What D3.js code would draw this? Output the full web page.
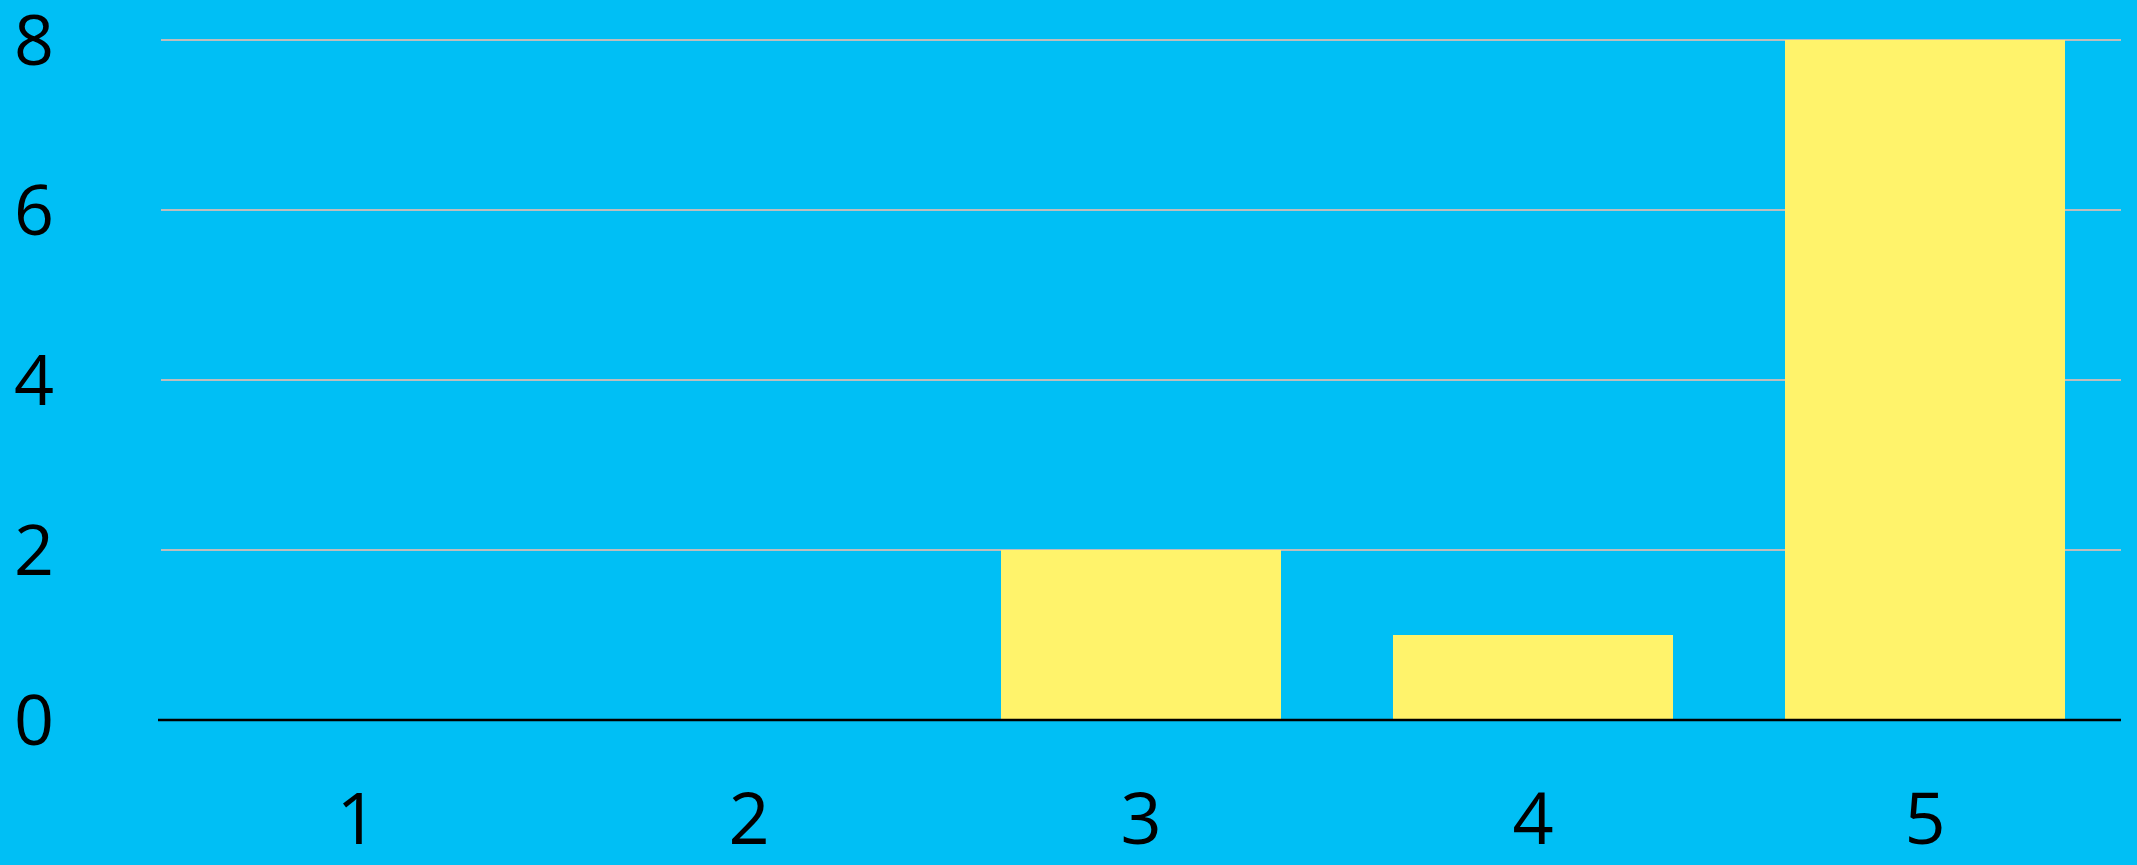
<!DOCTYPE html>
<meta charset="utf-8">
<style>
body { margin: 0; background: #00bff5; }
svg { display: block; }
.tick-label { font-family: "Open Sans", sans-serif; fill: #000; }
.y-label { font-size: 70px; }
.x-label { font-size: 72px; }
</style>
<svg class="chart"></svg>
<script src="https://d3js.org/d3.v7.min.js"></script>
<script>

var categories = ["1", "2", "3", "4", "5"];
var values = [0, 0, 2, 1, 8];
var yTicks = [0, 2, 4, 6, 8];

var width = 2137, height = 865;
var margin = {top: 40, right: 16, bottom: 145, left: 161};

var svg = d3.select(".chart")
    .attr("width", width)
    .attr("height", height);

svg.append("rect")
    .attr("width", width)
    .attr("height", height)
    .attr("fill", "#00bff5");

var x = d3.scaleBand()
    .domain(categories)
    .range([margin.left, width - margin.right])
    .paddingInner(2 / 7)
    .paddingOuter(1 / 7);

var y = d3.scaleLinear()
    .domain([0, 8])
    .range([height - margin.bottom, margin.top]);

// grid lines
svg.append("g")
  .selectAll("line")
  .data(yTicks.filter(function(d) { return d > 0; }))
  .enter().append("line")
    .attr("x1", margin.left)
    .attr("x2", width - margin.right)
    .attr("y1", function(d) { return y(d); })
    .attr("y2", function(d) { return y(d); })
    .attr("stroke", "#bdbdbd")
    .attr("stroke-width", 2);

// bars
svg.append("g")
  .selectAll("rect")
  .data(values)
  .enter().append("rect")
    .attr("x", function(d, i) { return x(categories[i]); })
    .attr("y", function(d) { return y(d); })
    .attr("width", x.bandwidth())
    .attr("height", function(d) { return y(0) - y(d); })
    .attr("fill", "#fff36b");

// baseline
svg.append("line")
    .attr("x1", margin.left - 3)
    .attr("x2", width - margin.right)
    .attr("y1", y(0))
    .attr("y2", y(0))
    .attr("stroke", "#000")
    .attr("stroke-width", 2.5);

// y labels
svg.append("g")
  .selectAll("text")
  .data(yTicks)
  .enter().append("text")
    .attr("class", "tick-label y-label")
    .attr("x", 34)
    .attr("y", function(d) { return y(d); })
    .attr("dy", "0.36em")
    .attr("text-anchor", "middle")
    .text(function(d) { return d; });

// x labels
svg.append("g")
  .selectAll("text")
  .data(categories)
  .enter().append("text")
    .attr("class", "tick-label x-label")
    .attr("x", function(d) { return x(d) + x.bandwidth() / 2; })
    .attr("y", 844)
    .attr("text-anchor", "middle")
    .text(function(d) { return d; });

</script>
